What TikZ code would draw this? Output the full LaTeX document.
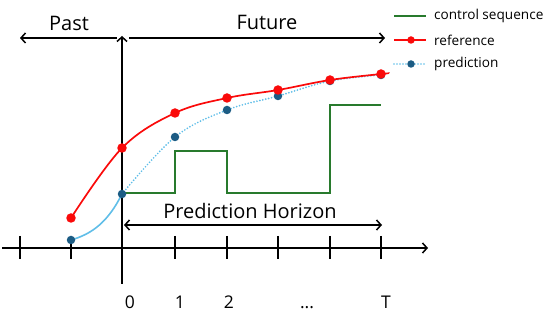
\documentclass[tikz,border=0pt]{standalone}
\usepackage{fontspec}
\setmainfont{Open Sans}
\usetikzlibrary{arrows.meta}
\definecolor{refred}{RGB}{250,10,10}
\definecolor{preddot}{RGB}{28,92,132}
\definecolor{predline}{RGB}{96,190,232}
\definecolor{ctrlgreen}{RGB}{40,122,45}
\tikzset{
  axisline/.style={line width=1.5pt, black},
  barb/.style={-{Straight Barb[length=4.5pt,width=10pt,line width=1.5pt]}},
  dbarb/.style={{Straight Barb[length=4.5pt,width=10pt,line width=1.5pt]}-{Straight Barb[length=4.5pt,width=10pt,line width=1.5pt]}},
  rdot/.style={circle, fill=refred, inner sep=0pt, minimum size=9.5pt},
  pdot/.style={circle, fill=preddot, inner sep=0pt, minimum size=8.5pt},
  refcurve/.style={refred, line width=1.7pt},
  predsolid/.style={predline, line width=1.6pt},
  preddots/.style={predline, line width=1.9pt, line cap=round, dash pattern=on 0pt off 3pt},
  ctrl/.style={ctrlgreen, line width=1.5pt},
  big/.style={font=\fontsize{20}{24}\selectfont, inner sep=0pt},
  ticklab/.style={font=\fontsize{17.5}{20}\selectfont, inner sep=0pt, anchor=base},
  leg/.style={font=\fontsize{13.6}{16}\selectfont, inner sep=0pt, anchor=west},
}
\begin{document}
\begin{tikzpicture}[x=1pt,y=-1pt]
\useasboundingbox (0,0) rectangle (550,318);
% axes
\coordinate (xs) at (2,248);
\coordinate (xe) at (428,248);
\coordinate (ys) at (122,284);
\coordinate (ye) at (122,36);
\draw[axisline,barb] (xs) -- (xe);
\draw[axisline,barb] (ys) -- (ye);
% ticks
\foreach \n/\x in {a/20,b/71,c/175,d/227,e/278,f/330,g/381}{
  \coordinate (tt\n) at (\x,236);
  \coordinate (tb\n) at (\x,259);
  \draw[axisline] (tt\n) -- (tb\n);
}
% tick labels
\node[ticklab] (l0) at (130,309) {0};
\node[ticklab] (l1) at (180,309) {1};
\node[ticklab] (l2) at (229,309) {2};
\node[ticklab] (ldots) at (307,309) {...};
\node[ticklab] (lT) at (386,309) {T};
% past / future
\coordinate (pastA) at (117,38);
\coordinate (pastB) at (20,38);
\coordinate (futA) at (129,38);
\coordinate (futB) at (385,38);
\draw[axisline,barb] (pastA) -- (pastB);
\draw[axisline,barb] (futA) -- (futB);
\node[big, anchor=base] (past) at (69,31) {Past};
\node[big, anchor=base] (future) at (267,30) {Future};
% prediction horizon
\coordinate (phA) at (124,225);
\coordinate (phB) at (382,225);
\draw[axisline,dbarb] (phA) -- (phB);
\node[big, anchor=base] (ph) at (250,219) {Prediction Horizon};
% control sequence
\coordinate (c0) at (122,193);
\coordinate (c1) at (175,193);
\coordinate (c2) at (175,151);
\coordinate (c3) at (227,151);
\coordinate (c4) at (227,193);
\coordinate (c5) at (330,193);
\coordinate (c6) at (330,105);
\coordinate (c7) at (381,105);
\draw[ctrl] (c0) -- (c1) -- (c2) -- (c3) -- (c4) -- (c5) -- (c6) -- (c7);
% reference points
\coordinate (r0) at (71,218);
\coordinate (r1) at (122,148);
\coordinate (r2) at (175,113);
\coordinate (r3) at (227,98);
\coordinate (r4) at (278,90);
\coordinate (r5) at (330,80);
\coordinate (r6) at (381,74);
\coordinate (r7) at (388,73.5);
% prediction points
\coordinate (p0) at (71,240);
\coordinate (p1) at (122,194);
\coordinate (p2) at (175,137);
\coordinate (p3) at (227,110);
\coordinate (p4) at (278,96);
\coordinate (p5) at (330,81);
\coordinate (p6) at (381,75);
% prediction curve
\draw[predsolid] (p0) .. controls (92,234) and (108,222) .. (p1);
\draw[preddots] plot[smooth, tension=0.6] coordinates {(p1) (p2) (p3) (p4) (p5) (p6)};
% reference curve
\draw[refcurve] plot[smooth, tension=0.6] coordinates {(r0) (r1) (r2) (r3) (r4) (r5) (r6) (r7)};
% dots
\foreach \i in {0,...,6}{ \node[pdot] (pd\i) at (p\i) {}; }
\foreach \i in {0,...,6}{ \node[rdot] (rd\i) at (r\i) {}; }
% legend
\coordinate (lg1a) at (394,16); \coordinate (lg1b) at (426,16);
\coordinate (lg2a) at (394,40); \coordinate (lg2b) at (426,40);
\coordinate (lg3a) at (394,64); \coordinate (lg3b) at (426,64);
\draw[ctrl] (lg1a) -- (lg1b);
\draw[refcurve] (lg2a) -- (lg2b);
\draw[preddots] (lg3a) -- (lg3b);
\node[rdot, minimum size=7.5pt] (lgr) at (411,40) {};
\node[pdot, minimum size=7.5pt] (lgp) at (411,64) {};
\node[leg] (t1) at (434,16) {control sequence};
\node[leg] (t2) at (434,40) {reference};
\node[leg] (t3) at (434,64) {prediction};
\end{tikzpicture}
\end{document}
